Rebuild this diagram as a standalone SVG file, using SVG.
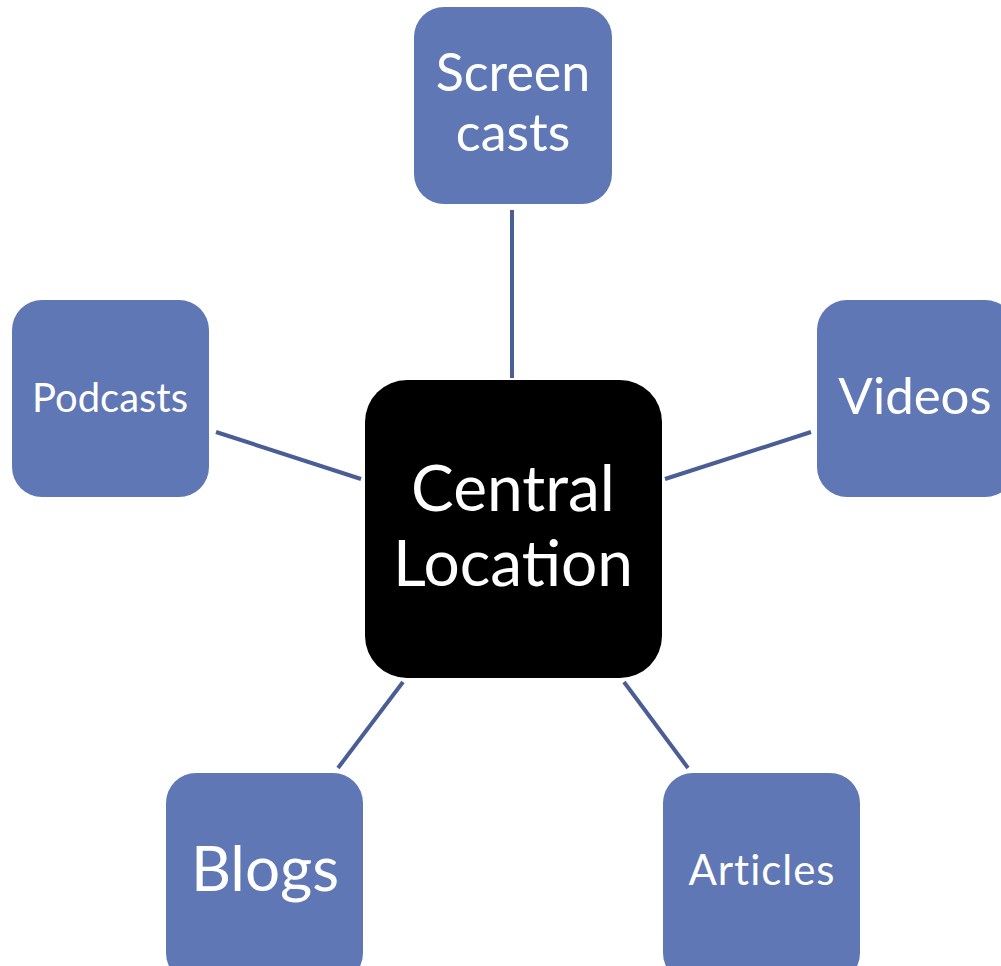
<svg xmlns="http://www.w3.org/2000/svg" width="1001" height="966" viewBox="0 0 1001 966">
<style>
.n{fill:#5f77b4}
.c{fill:#000}
.t{fill:#fff;font-family:Lato,"Open Sans",sans-serif;text-anchor:middle}
.e{stroke:#4a5e95;stroke-width:4;fill:none}
</style>
<rect width="1001" height="966" fill="#fff"/>
<g id="connectors">
<line class="e" x1="512" y1="210" x2="512" y2="378"/>
<line class="e" x1="216" y1="432" x2="361" y2="479"/>
<line class="e" x1="665" y1="479" x2="811" y2="432"/>
<line class="e" x1="403" y1="682" x2="338" y2="768"/>
<line class="e" x1="624" y1="682" x2="688" y2="768"/>
</g>
<g id="central">
<rect class="c" x="365" y="380" width="297" height="298" rx="42"/>
<text class="t" x="513" y="511" font-size="64">Central</text>
<text class="t" x="513" y="586" font-size="64">Location</text>
</g>
<g id="screencasts">
<rect class="n" x="414" y="7" width="198" height="197" rx="30"/>
<text class="t" x="513" y="91" font-size="52">Screen</text>
<text class="t" x="513" y="151" font-size="52">casts</text>
</g>
<g id="videos">
<rect class="n" x="817" y="300" width="198" height="197" rx="30"/>
<text class="t" x="915" y="414" font-size="51">Videos</text>
</g>
<g id="podcasts">
<rect class="n" x="12" y="300" width="197" height="197" rx="30"/>
<text class="t" x="110" y="412" font-size="40">Podcasts</text>
</g>
<g id="blogs">
<rect class="n" x="166" y="773" width="197" height="210" rx="30"/>
<text class="t" x="265" y="891" font-size="62">Blogs</text>
</g>
<g id="articles">
<rect class="n" x="663" y="773" width="197" height="210" rx="30"/>
<text class="t" x="762" y="885" font-size="42" letter-spacing="1">Articles</text>
</g>
</svg>
